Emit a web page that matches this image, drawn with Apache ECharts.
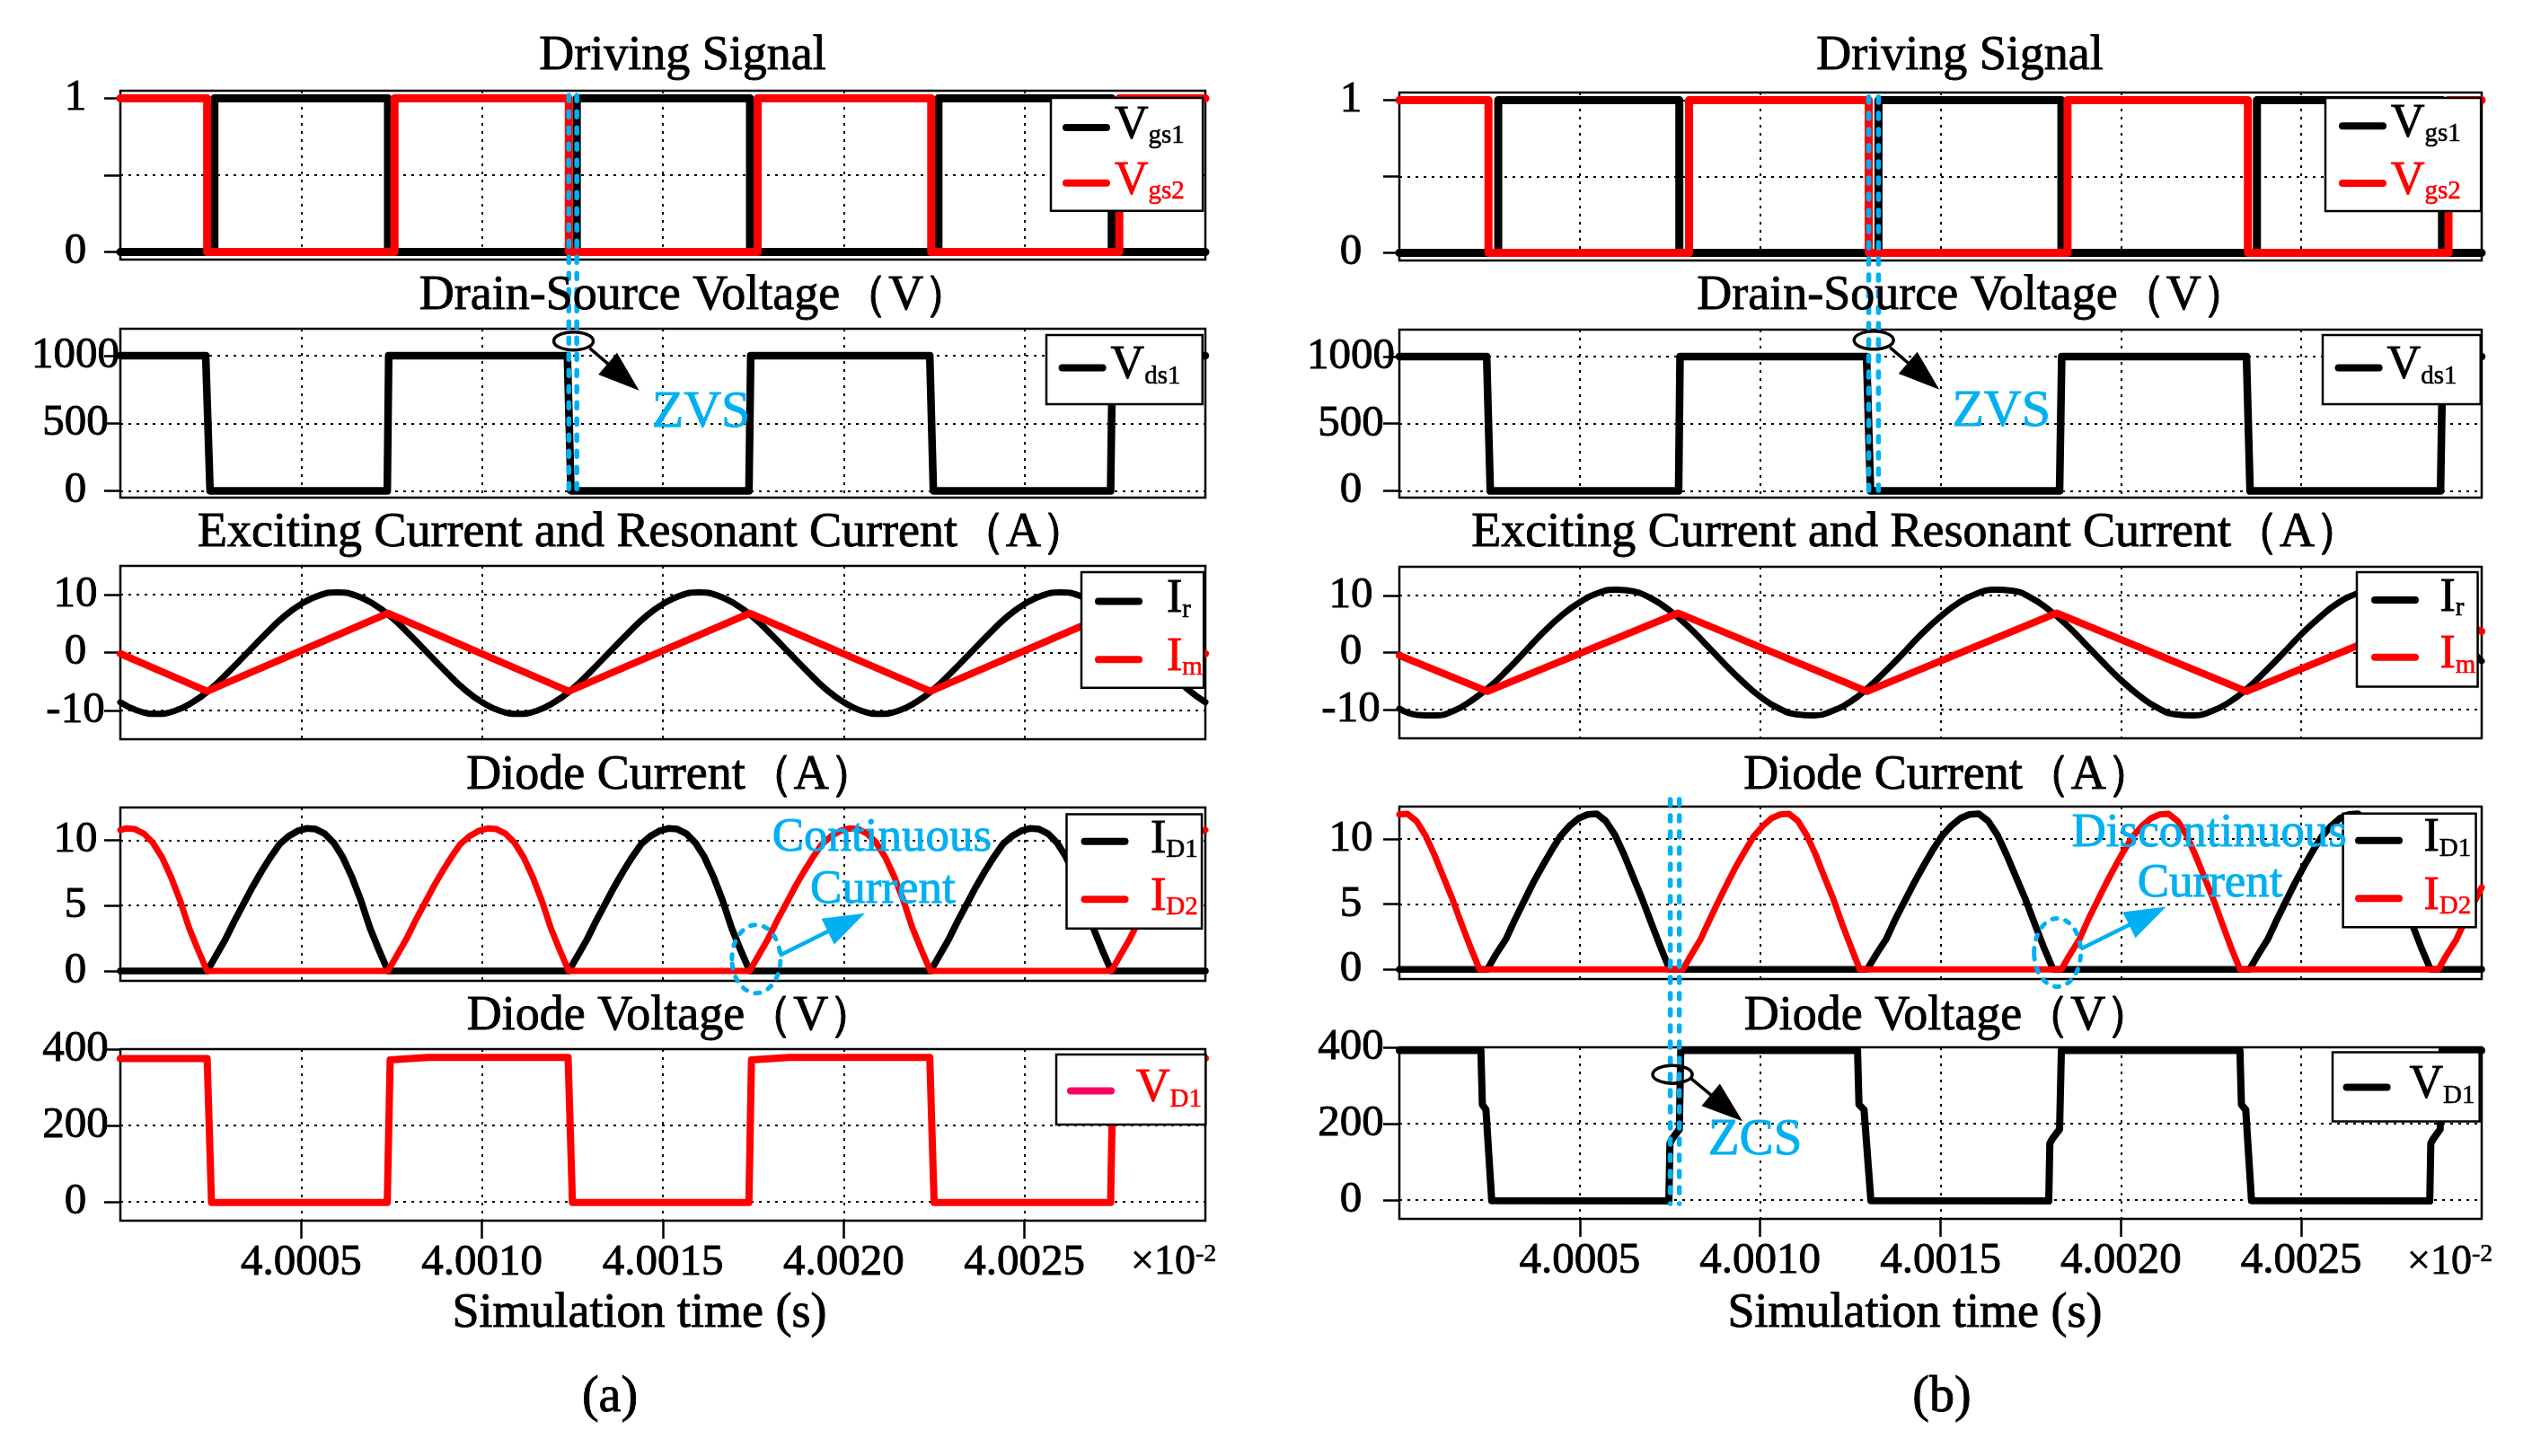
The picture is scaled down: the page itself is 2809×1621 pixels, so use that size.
<!DOCTYPE html>
<html><head><meta charset="utf-8">
<script src="https://cdn.jsdelivr.net/npm/echarts@6/dist/echarts.min.js"></script>
<style>html,body{margin:0;padding:0;background:#fff}#c{width:2809px;height:1621px}</style>
</head><body><div id="c"></div>
<script>
// ---------------- DATA (x = microseconds after 4.0000 x 10^-2 s) ----------------
const xTickValues = [5, 10, 15, 20, 25];
const xTickLabels = ['4.0005', '4.0010', '4.0015', '4.0020', '4.0025'];
const panelTitles = ['Driving Signal', 'Drain-Source Voltage（V）', 'Exciting Current and Resonant Current（A）', 'Diode Current（A）', 'Diode Voltage（V）'];
const yRanges = [[-0.05, 1.05], [-50, 1200], [-15, 15], [-0.75, 12.5], [-50, 400]];
const yTicks = [[0, 0.5, 1], [0, 500, 1000], [-10, 0, 10], [0, 5, 10], [0, 200, 400]];
const yLabels = [[0, 1], [0, 500, 1000], [-10, 0, 10], [0, 5, 10], [0, 200, 400]];

// ---- (a) ----
const vgs1A = [[0,0],[2.6,0],[2.6,1],[7.4,1],[7.4,0],[12.62,0],[12.62,1],[17.41,1],[17.41,0],[22.62,0],[22.62,1],[27.41,1],[27.41,0],[30,0]];
const vgs2A = [[0,1],[2.4,1],[2.4,0],[7.58,0],[7.58,1],[12.4,1],[12.4,0],[17.62,0],[17.62,1],[22.42,1],[22.42,0],[27.62,0],[27.62,1],[30,1]];
const vdsA = [[0,1000],[2.36,1000],[2.48,0],[7.38,0],[7.42,1000],[12.36,1000],[12.46,0],[17.38,0],[17.43,1000],[22.38,1000],[22.48,0],[27.38,0],[27.43,1000],[30,1000]];
const irA = [[0,-8.6],[0.5,-10.1],[1,-10.6],[1.5,-10.1],[2,-8.6],[2.5,-6.3],[3,-3.3],[3.5,-0.1],[4,3.1],[4.5,6.1],[5,8.4],[5.5,9.9],[6,10.4],[6.5,9.9],[7,8.4],[7.5,6.1],[8,3.1],[8.5,-0.1],[9,-3.3],[9.5,-6.3],
 [10,-8.6],[10.5,-10.1],[11,-10.6],[11.5,-10.1],[12,-8.6],[12.5,-6.3],[13,-3.3],[13.5,-0.1],[14,3.1],[14.5,6.1],[15,8.4],[15.5,9.9],[16,10.4],[16.5,9.9],[17,8.4],[17.5,6.1],[18,3.1],[18.5,-0.1],[19,-3.3],[19.5,-6.3],
 [20,-8.6],[20.5,-10.1],[21,-10.6],[21.5,-10.1],[22,-8.6],[22.5,-6.3],[23,-3.3],[23.5,-0.1],[24,3.1],[24.5,6.1],[25,8.4],[25.5,9.9],[26,10.4],[26.5,9.9],[27,8.4],[27.5,6.1],[28,3.1],[28.5,-0.1],[29,-3.3],[29.5,-6.3],[30,-8.6]];
const imA = [[0,-0.2],[2.4,-6.7],[7.4,6.8],[12.4,-6.7],[17.4,6.8],[22.4,-6.7],[27.4,6.8],[30,-0.2]];
const id1A = [[0,0],[2.4,0],
 [2.65,1.2],[2.9,2.4],[3.15,3.8],[3.4,5.1],[3.65,6.4],[3.9,7.6],[4.15,8.7],[4.4,9.7],[4.65,10.3],[4.9,10.7],[5.15,10.9],[5.4,10.85],[5.65,10.5],[5.9,9.8],[6.15,8.7],[6.4,7.2],[6.65,5.4],[6.9,3.3],[7.15,1.6],[7.4,0],
 [12.4,0],[12.65,1.2],[12.9,2.4],[13.15,3.8],[13.4,5.1],[13.65,6.4],[13.9,7.6],[14.15,8.7],[14.4,9.7],[14.65,10.3],[14.9,10.7],[15.15,10.9],[15.4,10.85],[15.65,10.5],[15.9,9.8],[16.15,8.7],[16.4,7.2],[16.65,5.4],[16.9,3.3],[17.15,1.6],[17.4,0],
 [22.4,0],[22.65,1.2],[22.9,2.4],[23.15,3.8],[23.4,5.1],[23.65,6.4],[23.9,7.6],[24.15,8.7],[24.4,9.7],[24.65,10.3],[24.9,10.7],[25.15,10.9],[25.4,10.85],[25.65,10.5],[25.9,9.8],[26.15,8.7],[26.4,7.2],[26.65,5.4],[26.9,3.3],[27.15,1.6],[27.4,0],[30,0]];
const id2A = [[0,10.78],[0.15,10.9],[0.4,10.85],[0.65,10.5],[0.9,9.8],[1.15,8.7],[1.4,7.2],[1.65,5.4],[1.9,3.3],[2.15,1.6],[2.4,0],
 [7.4,0],[7.65,1.2],[7.9,2.4],[8.15,3.8],[8.4,5.1],[8.65,6.4],[8.9,7.6],[9.15,8.7],[9.4,9.7],[9.65,10.3],[9.9,10.7],[10.15,10.9],[10.4,10.85],[10.65,10.5],[10.9,9.8],[11.15,8.7],[11.4,7.2],[11.65,5.4],[11.9,3.3],[12.15,1.6],[12.4,0],
 [17.4,0],[17.65,1.2],[17.9,2.4],[18.15,3.8],[18.4,5.1],[18.65,6.4],[18.9,7.6],[19.15,8.7],[19.4,9.7],[19.65,10.3],[19.9,10.7],[20.15,10.9],[20.4,10.85],[20.65,10.5],[20.9,9.8],[21.15,8.7],[21.4,7.2],[21.65,5.4],[21.9,3.3],[22.15,1.6],[22.4,0],
 [27.4,0],[27.65,1.2],[27.9,2.4],[28.15,3.8],[28.4,5.1],[28.65,6.4],[28.9,7.6],[29.15,8.7],[29.4,9.7],[29.65,10.3],[29.9,10.7],[30,10.78]];
const vd1A = [[0,375],[2.4,375],[2.52,-2],[7.38,-2],[7.46,372],[8.5,378],[12.38,378],[12.5,-2],[17.38,-2],[17.45,372],[18.5,378],[22.38,378],[22.5,-2],[27.38,-2],[27.45,372],[30,376]];

// ---- (b) ----
const vgs1B = [[0,0],[2.74,0],[2.74,1],[7.76,1],[7.76,0],[13.28,0],[13.28,1],[18.35,1],[18.35,0],[23.77,0],[23.77,1],[28.9,1],[28.9,0],[30,0]];
const vgs2B = [[0,1],[2.47,1],[2.47,0],[8.03,0],[8.03,1],[13.01,1],[13.01,0],[18.52,0],[18.52,1],[23.52,1],[23.52,0],[29.08,0],[29.08,1],[30,1]];
const vdsB = [[0,1000],[2.42,1000],[2.52,0],[7.74,0],[7.78,1000],[12.95,1000],[13.06,0],[18.3,0],[18.36,1000],[23.48,1000],[23.58,0],[28.86,0],[28.92,1000],[30,1000]];
const irB = [[0,-9.8],[0.5,-10.9],[1,-11.0],[1.5,-10.2],[2,-8.4],[2.5,-6.0],[3,-3.0],[3.5,0.3],[4,3.6],[4.5,6.5],[5,8.8],[5.5,10.4],[6,11.0],[6.5,10.7],[7,9.4],[7.5,7.3],[8,4.6],[8.5,1.4],[9,-1.9],[9.5,-5.0],
 [10,-7.7],[10.5,-9.7],[11,-10.8],[11.5,-11.0],[12,-10.2],[12.5,-8.6],[13,-6.1],[13.5,-3.1],[14,0.1],[14.5,3.4],[15,6.3],[15.5,8.7],[16,10.3],[16.5,11.0],[17,10.8],[17.5,9.6],[18,7.5],[18.5,4.8],[19,1.6],[19.5,-1.7],
 [20,-4.8],[20.5,-7.5],[21,-9.6],[21.5,-10.8],[22,-11.0],[22.5,-10.3],[23,-8.7],[23.5,-6.3],[24,-3.3],[24.5,-0.1],[25,3.2],[25.5,6.1],[26,8.6],[26.5,10.2],[27,11.0],[27.5,10.8],[28,9.6],[28.5,7.6],[29,4.9],[29.5,1.8],[30,-1.5]];
const imB = [[0,-0.5],[2.44,-6.8],[7.73,6.9],[12.96,-6.8],[18.22,6.9],[23.48,-6.8],[28.75,6.9],[30,3.7]];
const id1B = [[0,0],
 [2.44,0],[2.69,1.2],[2.95,2.3],[3.2,3.8],[3.45,5.2],[3.7,6.6],[3.96,7.9],[4.21,9.1],[4.46,10.2],[4.71,11.0],[4.97,11.6],[5.22,11.9],[5.47,11.95],[5.72,11.4],[5.98,10.3],[6.23,8.8],[6.48,7.1],[6.73,5.4],[6.99,3.5],[7.24,1.7],[7.49,0],
 [12.97,0],[13.23,1.2],[13.49,2.3],[13.74,3.8],[14.0,5.2],[14.26,6.6],[14.52,7.9],[14.77,9.1],[15.03,10.2],[15.29,11.0],[15.55,11.6],[15.8,11.9],[16.06,11.95],[16.32,11.4],[16.58,10.3],[16.83,8.8],[17.09,7.1],[17.35,5.4],[17.61,3.5],[17.86,1.7],[18.12,0],
 [23.57,0],[23.82,1.2],[24.07,2.3],[24.32,3.8],[24.57,5.2],[24.82,6.6],[25.07,7.9],[25.32,9.1],[25.57,10.2],[25.82,11.0],[26.07,11.6],[26.32,11.9],[26.57,11.95],[26.82,11.4],[27.07,10.3],[27.32,8.8],[27.57,7.1],[27.82,5.4],[28.07,3.5],[28.32,1.7],[28.58,0],[30,0]];
const id2B = [[0,11.9],[0.22,11.95],[0.47,11.4],[0.72,10.3],[0.97,8.8],[1.22,7.1],[1.47,5.4],[1.72,3.5],[1.97,1.7],[2.22,0],
 [7.86,0],[8.11,1.2],[8.35,2.3],[8.6,3.8],[8.84,5.2],[9.09,6.6],[9.33,7.9],[9.58,9.1],[9.82,10.2],[10.07,11.0],[10.31,11.6],[10.56,11.9],[10.8,11.95],[11.05,11.4],[11.29,10.3],[11.54,8.8],[11.78,7.1],[12.03,5.4],[12.27,3.5],[12.52,1.7],[12.76,0],
 [18.35,0],[18.6,1.2],[18.85,2.3],[19.09,3.8],[19.34,5.2],[19.59,6.6],[19.84,7.9],[20.08,9.1],[20.33,10.2],[20.58,11.0],[20.83,11.6],[21.07,11.9],[21.32,11.95],[21.57,11.4],[21.82,10.3],[22.06,8.8],[22.31,7.1],[22.56,5.4],[22.81,3.5],[23.05,1.7],[23.3,0],
 [28.8,0],[29.05,1.2],[29.3,2.3],[29.55,3.8],[29.8,5.2],[30,6.3]];
const vd1B = [[0,392],[2.26,392],[2.3,250],[2.4,236],[2.56,-2],[7.47,-3],[7.5,148],[7.56,160],[7.76,185],[7.8,392],
 [12.7,392],[12.74,250],[12.88,236],[13.07,-2],[18.0,-3],[18.03,148],[18.1,160],[18.3,185],[18.35,392],
 [23.3,392],[23.34,250],[23.46,236],[23.62,-2],[28.56,-3],[28.59,148],[28.66,160],[28.85,185],[28.9,392],[30,392]];

// annotation instants (same time units)
const zvsTimesA = [12.4, 12.62];
const zvsTimesB = [13.01, 13.28];
const zcsTimesB = [7.51, 7.76];

// ---------------- LAYOUT / STYLE ----------------
const FONT = '"Liberation Serif", "Times New Roman", serif';
const BLUE = '#00B0F0', RED = '#FF0000', BLACK = '#000000';
const cols = [{left: 134, width: 1208, labelMargin: 50}, {left: 1558, width: 1205, labelMargin: 54}];
const rows = [
  [{top: 101, h: 188}, {top: 366, h: 188}, {top: 630, h: 193}, {top: 899, h: 193}, {top: 1168, h: 191}],
  [{top: 103, h: 187}, {top: 367, h: 187}, {top: 631, h: 191}, {top: 898, h: 192}, {top: 1166, h: 191}]
];
const GRIDLINE = {color: '#000', width: 2, type: [3, 6]};
const LBL = {fontSize: 49, fontFamily: FONT, color: '#000', textBorderColor: '#000', textBorderWidth: 0.9};

const grids = [], xAxes = [], yAxes = [];
rows.forEach((rr, c) => rr.forEach((r, i) => {
  const gi = c * 5 + i, bottom = i === 4;
  grids.push({left: cols[c].left, width: cols[c].width, top: r.top, height: r.h, show: true,
    borderColor: '#000', borderWidth: 2.5, backgroundColor: 'transparent', containLabel: false, outerBoundsMode: 'none'});
  xAxes.push({gridIndex: gi, type: 'value', min: 0, max: 30, interval: 5,
    axisLine: {show: false, onZero: false},
    axisTick: {show: bottom, length: 20, lineStyle: {color: '#000', width: 2.5}, customValues: xTickValues},
    axisLabel: Object.assign({show: bottom, customValues: xTickValues, margin: 23,
      formatter: v => { const k = xTickValues.indexOf(v); return k >= 0 ? xTickLabels[k] : ''; }}, LBL),
    splitLine: {show: true, lineStyle: GRIDLINE}});
  yAxes.push({gridIndex: gi, type: 'value', min: yRanges[i][0], max: yRanges[i][1],
    axisLine: {show: false, onZero: false},
    axisTick: {show: true, length: 18, lineStyle: {color: '#000', width: 2.5}, customValues: yTicks[i]},
    axisLabel: Object.assign({show: true, customValues: yLabels[i], margin: cols[c].labelMargin, align: 'center',
      formatter: v => String(v)}, LBL),
    splitLine: {show: true, lineStyle: GRIDLINE}});
}));

function line(gi, name, data, color, width, z, smooth) {
  return {type: 'line', name, xAxisIndex: gi, yAxisIndex: gi, data, showSymbol: false, symbol: 'none',
    smooth: !!smooth, lineStyle: {color, width, cap: 'round', join: 'round'}, itemStyle: {color},
    z, silent: true, animation: false};
}
const series = [
  line(0, 'a:Vgs1', vgs1A, BLACK, 9, 2), line(0, 'a:Vgs2', vgs2A, RED, 9, 3),
  line(1, 'a:Vds1', vdsA, BLACK, 8.5, 2),
  line(2, 'a:Ir', irA, BLACK, 7, 2, true), line(2, 'a:Im', imA, RED, 8, 3),
  line(3, 'a:ID1', id1A, BLACK, 7.5, 2), line(3, 'a:ID2', id2A, RED, 7, 3),
  line(4, 'a:VD1', vd1A, RED, 8, 2),
  line(5, 'b:Vgs1', vgs1B, BLACK, 9, 2), line(5, 'b:Vgs2', vgs2B, RED, 9, 3),
  line(6, 'b:Vds1', vdsB, BLACK, 8.5, 2),
  line(7, 'b:Ir', irB, BLACK, 7, 2, true), line(7, 'b:Im', imB, RED, 8, 3),
  line(8, 'b:ID1', id1B, BLACK, 7.5, 2), line(8, 'b:ID2', id2B, RED, 7, 3),
  line(9, 'b:VD1', vd1B, BLACK, 8, 2)
];

const redNames = ['a:Vgs2', 'b:Vgs2', 'a:Im', 'b:Im', 'a:ID2', 'b:ID2', 'a:VD1'];
const CAPSULE = 'path://M4,0H49A4,4,0,0,1,49,8H4A4,4,0,0,1,4,0Z';
function legend(names, left, top, pad, gap, itemGap, iconColors) {
  const rich = {};
  [['k', BLACK], ['r', RED]].forEach(([k, col]) => {
    rich['m' + k] = {fontSize: 52, lineHeight: 48, fontFamily: FONT, color: col, padding: [0, 0, 0, gap], verticalAlign: 'bottom',
      textBorderColor: col, textBorderWidth: 0.9};
    rich['s' + k] = {fontSize: 29, lineHeight: 29, fontFamily: FONT, color: col, verticalAlign: 'bottom',
      textBorderColor: col, textBorderWidth: 0.6};
  });
  return {orient: 'vertical', left, top, padding: pad, itemGap, itemWidth: 53, itemHeight: 9, icon: CAPSULE,
    selectedMode: false, backgroundColor: '#fff', borderColor: '#000', borderWidth: 2.5, borderRadius: 0,
    data: names.map(n => (iconColors && iconColors[n]) ? {name: n, itemStyle: {color: iconColors[n], borderColor: iconColors[n]}} : {name: n}),
    formatter: n => { const key = n.split(':')[1]; const k = redNames.includes(n) ? 'r' : 'k';
      return '{m' + k + '|' + key[0] + '}{s' + k + '|' + key.slice(1) + '}'; },
    textStyle: {fontFamily: FONT, fontSize: 52, lineHeight: 48, rich}};
}
const legends = [
  legend(['a:Vgs1', 'a:Vgs2'], 1170, 109, [4.5, 20, 6.5, 13], 0, 9),
  legend(['a:Vds1'], 1165, 373, [8, 24, 16, 13.6], 0, 9),
  legend(['a:Ir', 'a:Im'], 1204, 637, [4, 1, 7, 15], 22, 12),
  legend(['a:ID1', 'a:ID2'], 1187.5, 906.4, [2, 4, 8, 16], 19.5, 11.5),
  legend(['a:VD1'], 1176, 1174, [12, 4, 13, 12], 19, 9, {'a:VD1': '#FF0066'}),
  legend(['b:Vgs1', 'b:Vgs2'], 2589, 109, [2.7, 22, 6.4, 15], 0, 11),
  legend(['b:Vds1'], 2586, 373, [8, 26, 16, 13.6], 0, 9),
  legend(['b:Ir', 'b:Im'], 2624, 637, [2.6, 2, 8.2, 16], 18.4, 10.8),
  legend(['b:ID1', 'b:ID2'], 2608.6, 905.7, [1.6, 5, 7.5, 13.4], 18.5, 11.7),
  legend(['b:VD1'], 2597, 1171.4, [10.6, 5, 13.6, 11.6], 15.8, 9)
];

const chart = echarts.init(document.getElementById('c'), null, {renderer: 'canvas', width: 2809, height: 1621});
chart.setOption({animation: false, backgroundColor: '#fff', textStyle: {fontFamily: FONT},
  grid: grids, xAxis: xAxes, yAxis: yAxes, legend: legends, series});

// ---------------- TEXT + ANNOTATIONS ----------------
function txt(x, y, text, size, color, align) {
  const col = color || BLACK;
  return {type: 'text', x, y, z: 50, silent: true,
    style: {text, font: size + 'px ' + FONT, fill: col, stroke: col, lineWidth: 0.9,
      align: align || 'center', verticalAlign: 'middle', textAlign: align || 'center', textVerticalAlign: 'middle'}};
}
const G = [];
const titleX = [[760, 774.5, 716.5, 748, 748], [2182, 2197, 2134.6, 2170, 2170]];
const titleY = [63, 330, 594, 863.5, 1132];
[0, 1].forEach(c => panelTitles.forEach((t, i) => G.push(txt(titleX[c][i], titleY[i], t, 54))));
G.push(txt(712, 1463, 'Simulation time (s)', 54), txt(2132, 1463, 'Simulation time (s)', 54));
G.push(txt(679, 1556, '(a)', 56), txt(2162, 1556, '(b)', 56));
[1259, 2680].forEach(x => G.push({type: 'text', x, y: 1406, z: 50, silent: true,
  style: {text: '{a|×10}{b|-2}', align: 'left', verticalAlign: 'middle', textAlign: 'left', textVerticalAlign: 'middle',
    rich: {a: {fontSize: 46, fontFamily: FONT, fill: BLACK, stroke: BLACK, lineWidth: 0.8, lineHeight: 46, verticalAlign: 'bottom'},
           b: {fontSize: 28, fontFamily: FONT, fill: BLACK, stroke: BLACK, lineWidth: 0.6, lineHeight: 46, verticalAlign: 'top'}}}}));

const px = (gi, t, v) => chart.convertToPixel({gridIndex: gi}, [t, v]);
// blue dashed instants
[{times: zvsTimesA, top: [0, 1.02], bot: [1, -15]},
 {times: zvsTimesB, top: [5, 1.02], bot: [6, -15]},
 {times: zcsTimesB, top: [8, 13.06], bot: [9, -10]}].forEach(s => s.times.forEach(t => {
  const p1 = px(s.top[0], t, s.top[1]), p2 = px(s.bot[0], t, s.bot[1]);
  G.push({type: 'line', z: 40, silent: true, shape: {x1: p1[0], y1: p1[1], x2: p1[0], y2: p2[1]},
    style: {stroke: BLUE, lineWidth: 5.5, lineDash: [6, 12], lineCap: 'round'}});
}));
function arrow(x1, y1, x2, y2, color, lw) {
  const dx = x2 - x1, dy = y2 - y1, L = Math.hypot(dx, dy), ux = dx / L, uy = dy / L;
  const hl = 46, hw = 16, bx = x2 - ux * hl, by = y2 - uy * hl, qx = -uy, qy = ux;
  G.push({type: 'line', z: 45, silent: true, shape: {x1, y1, x2: bx + ux * 4, y2: by + uy * 4}, style: {stroke: color, lineWidth: lw}});
  G.push({type: 'polygon', z: 45, silent: true, shape: {points: [[x2, y2], [bx + qx * hw, by + qy * hw], [bx - qx * hw, by - qy * hw]]}, style: {fill: color}});
}
const notes = [
  {g: 1, t: 12.53, v: 1109, kind: 'zvs'}, {g: 6, t: 13.15, v: 1121, kind: 'zvs'},
  {g: 9, t: 7.57, v: 329, kind: 'zcs'},
  {g: 3, t: 17.58, v: 0.92, kind: 'cont'}, {g: 8, t: 18.24, v: 1.29, kind: 'discont'}
];
notes.forEach(n => {
  const [cx, cy] = px(n.g, n.t, n.v);
  if (n.kind === 'zvs' || n.kind === 'zcs') {
    G.push({type: 'ellipse', z: 46, silent: true, shape: {cx, cy, rx: 22, ry: 10}, style: {fill: 'none', stroke: BLACK, lineWidth: 3.5}});
    if (n.kind === 'zvs') { arrow(cx + 18, cy + 8, cx + 73, cy + 55, BLACK, 3.5); G.push(txt(cx + 142, cy + 80, 'ZVS', 58, BLUE)); }
    else { arrow(cx + 20, cy + 4, cx + 78, cy + 52, BLACK, 3.5); G.push(txt(cx + 92, cy + 74, 'ZCS', 57, BLUE)); }
  } else {
    const cont = n.kind === 'cont';
    G.push({type: 'ellipse', z: 46, silent: true, shape: {cx, cy, rx: cont ? 27 : 26, ry: 38},
      style: {fill: 'none', stroke: BLUE, lineWidth: 5, lineDash: [5, 10], lineCap: 'round'}});
    arrow(cx + 26, cy - 4, cx + 121, cy - 51, BLUE, 4.5);
    G.push(txt(cx + (cont ? 140 : 169), cy - (cont ? 135 : 132), cont ? 'Continuous' : 'Discontinuous', 53, BLUE));
    G.push(txt(cx + (cont ? 141 : 170), cy - (cont ? 77 : 76), 'Current', 53, BLUE));
  }
});
chart.setOption({graphic: {elements: G}});
</script></body></html>
